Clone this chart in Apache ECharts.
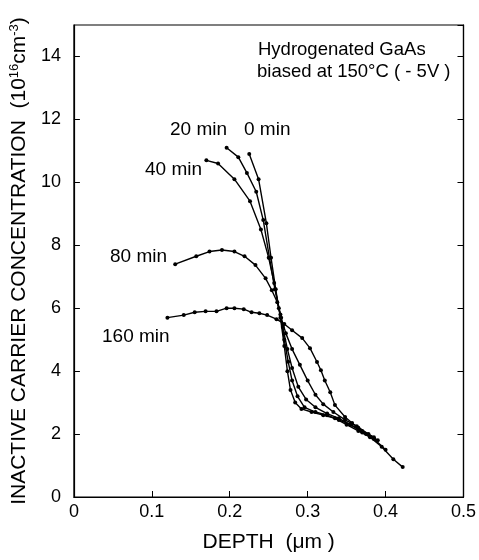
<!DOCTYPE html>
<html>
<head>
<meta charset="utf-8">
<script src="https://cdn.jsdelivr.net/npm/echarts@6/dist/echarts.min.js"></script>
<style>
html, body { margin: 0; padding: 0; background: #fff; }
#chart { width: 479px; height: 560px; }
</style>
</head>
<body>
<div id="chart"></div>
<script>
// depth (um), concentration (1e16 cm^-3)
var min0 = [[0.225,10.9],[0.237,10.1],[0.247,8.7],[0.253,7.6],[0.259,6.6],[0.265,5.7],[0.27,4.8],[0.274,4.0],[0.278,3.4],[0.284,3.0],[0.292,2.8],[0.305,2.7],[0.32,2.6],[0.335,2.5],[0.35,2.3],[0.365,2.1],[0.38,1.9],[0.395,1.6],[0.41,1.2],[0.422,0.95]];
var min20 = [[0.196,11.1],[0.211,10.8],[0.222,10.3],[0.234,9.7],[0.243,8.8],[0.251,7.6],[0.258,6.6],[0.265,5.8],[0.27,5.0],[0.275,4.3],[0.28,3.7],[0.287,3.2],[0.296,2.85],[0.31,2.7],[0.325,2.6],[0.34,2.45],[0.355,2.3],[0.37,2.05],[0.385,1.85],[0.4,1.5]];
var min40 = [[0.17,10.7],[0.185,10.6],[0.206,10.1],[0.226,9.4],[0.24,8.5],[0.25,7.6],[0.257,6.8],[0.263,6.0],[0.268,5.4],[0.274,4.7],[0.28,4.1],[0.288,3.5],[0.298,3.1],[0.31,2.85],[0.325,2.65],[0.34,2.5],[0.355,2.3],[0.37,2.1],[0.385,1.9]];
var min80 = [[0.13,7.4],[0.157,7.65],[0.174,7.8],[0.19,7.85],[0.206,7.8],[0.219,7.65],[0.233,7.37],[0.246,6.95],[0.254,6.57],[0.261,6.19],[0.266,5.7],[0.272,5.2],[0.28,4.7],[0.29,4.2],[0.3,3.7],[0.31,3.25],[0.32,2.95],[0.333,2.7],[0.348,2.45],[0.363,2.25],[0.378,2.0],[0.39,1.8]];
var min160 = [[0.12,5.7],[0.141,5.78],[0.155,5.87],[0.169,5.9],[0.183,5.9],[0.196,6.0],[0.206,6.0],[0.218,5.97],[0.228,5.87],[0.238,5.84],[0.248,5.78],[0.26,5.65],[0.27,5.5],[0.28,5.3],[0.293,5.05],[0.303,4.73],[0.312,4.29],[0.317,4.03],[0.322,3.7],[0.329,3.33],[0.335,2.92],[0.348,2.54],[0.357,2.35],[0.365,2.2],[0.375,2.0],[0.385,1.85]];
var seriesNames = ['0 min', '20 min', '40 min', '80 min', '160 min'];
var seriesData = [min0, min20, min40, min80, min160];
var note = ['Hydrogenated GaAs', 'biased at 150°C ( - 5V )'];

var font = 'Liberation Sans, Arial, Helvetica, sans-serif';
var chart = echarts.init(document.getElementById('chart'), null, {renderer: 'canvas'});

var series = seriesData.map(function (d, i) {
  return {
    name: seriesNames[i],
    type: 'line',
    data: d,
    symbol: 'circle',
    symbolSize: 4,
    showSymbol: true,
    animation: false,
    lineStyle: {color: '#000', width: 1.4},
    itemStyle: {color: '#000'}
  };
});

// curve labels: [series index, left, top]
var labelPos = [[0, 244, 120], [1, 170, 120], [2, 145, 160], [3, 110, 247], [4, 102, 327]];
var graphics = [
  {type: 'text', left: 258, top: 40, style: {text: note[0], font: '18.5px ' + font, fill: '#000'}},
  {type: 'text', left: 257, top: 62, style: {text: note[1], font: '18.5px ' + font, fill: '#000'}}
];
labelPos.forEach(function (p) {
  graphics.push({type: 'text', left: p[1], top: p[2],
    style: {text: seriesNames[p[0]], font: '19px ' + font, fill: '#000'}});
});

var option = {
  animation: false,
  backgroundColor: '#fff',
  grid: {left: 73, right: 15, top: 25, bottom: 63, show: true, borderColor: '#000', borderWidth: 1.2},
  xAxis: [{
    type: 'value', min: 0, max: 0.5, interval: 0.1,
    axisLine: {show: true, lineStyle: {color: '#000', width: 1.2}},
    axisTick: {show: true, inside: true, length: 6, lineStyle: {color: '#000'}},
    splitLine: {show: false},
    axisLabel: {color: '#000', fontSize: 18, fontFamily: font, margin: 6,
      formatter: function (v) { return v === 0 ? '0' : v.toFixed(1); }},
    name: 'DEPTH  (\u03bcm )', nameLocation: 'middle', nameGap: 35,
    nameTextStyle: {color: '#000', fontSize: 21, fontFamily: font}
  }],
  yAxis: [{
    type: 'value', min: 0, max: 15, interval: 2,
    axisLine: {show: true, lineStyle: {color: '#000', width: 1.2}},
    axisTick: {show: true, inside: true, length: 6, lineStyle: {color: '#000'}},
    splitLine: {show: false},
    axisLabel: {color: '#000', fontSize: 18, fontFamily: font, margin: 13,
      showMaxLabel: false},
    name: 'INACTIVE CARRIER CONCENTRATION  (10{sup|16}cm{sup|-3})',
    nameLocation: 'middle', nameGap: 37,
    nameTextStyle: {color: '#000', fontSize: 21, fontFamily: font,
      rich: {sup: {fontSize: 13, verticalAlign: 'bottom', padding: [0, 0, 10, 0], fontFamily: font, color: '#000'}}}
  }, {
    type: 'value', min: 0, max: 15, interval: 2, position: 'right',
    axisLine: {show: true, lineStyle: {color: '#000', width: 1.2}},
    axisTick: {show: true, inside: true, length: 6, lineStyle: {color: '#000'}},
    axisLabel: {show: false}, splitLine: {show: false}
  }],
  graphic: graphics,
  series: series
};
chart.setOption(option);
</script>
</body>
</html>
